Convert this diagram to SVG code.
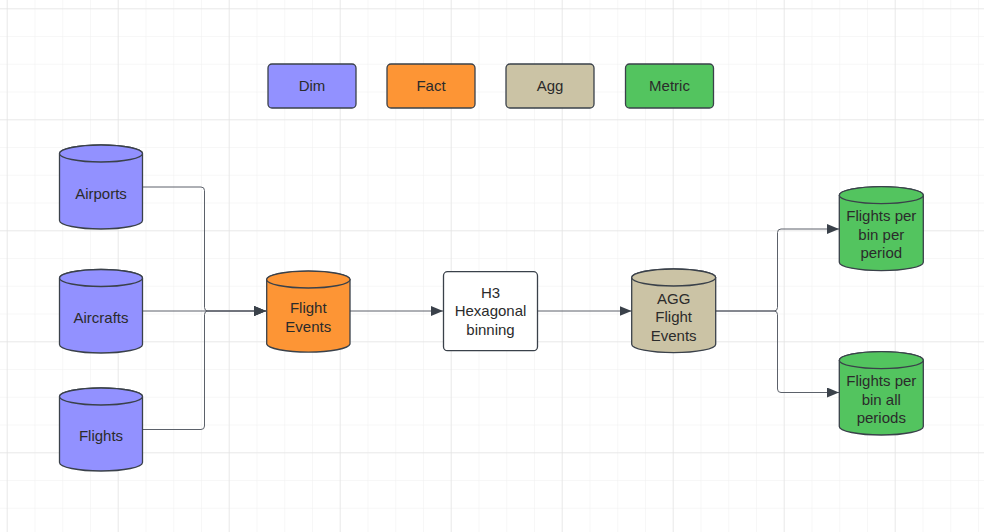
<svg xmlns="http://www.w3.org/2000/svg" width="984" height="532" viewBox="0 0 984 532">
<defs>
<pattern id="minor" x="6.7" y="8.3" width="27.75" height="27.75" patternUnits="userSpaceOnUse">
<path d="M0,0 V27.75 M0,0 H27.75" fill="none" stroke="#efefef" stroke-width="1"/>
</pattern>
<pattern id="major" x="6.7" y="8.3" width="111" height="111" patternUnits="userSpaceOnUse">
<path d="M0,0 V111 M0,0 H111" fill="none" stroke="#dddddd" stroke-width="1"/>
</pattern>
<marker id="arr" viewBox="0 0 12 10" refX="12" refY="5" markerWidth="12" markerHeight="10" markerUnits="userSpaceOnUse" orient="auto">
<path d="M0,0 L12,5 L0,10 Z" fill="#3a414a"/>
</marker>
</defs>
<style>
.shape{stroke:#3a414a;stroke-width:1.3}
.dim{fill:#9291ff}
.fact{fill:#fd9535}
.agg{fill:#cbc3a5}
.metric{fill:#53c45f}
.proc{fill:#ffffff}
.t{font-family:"Liberation Sans",Arial,sans-serif;font-size:15px;fill:#2b2b2b;text-anchor:middle}
.c{fill:none;stroke:#5c616a;stroke-width:1}
</style>
<rect width="984" height="532" fill="#ffffff"/>
<rect width="984" height="532" fill="url(#minor)"/>
<rect width="984" height="532" fill="url(#major)"/>

<g id="legend-dim"><rect class="shape dim" x="268" y="64" width="88" height="44" rx="4"/><text class="t" x="312" y="91">Dim</text></g>
<g id="legend-fact"><rect class="shape fact" x="387" y="64" width="88" height="44" rx="4"/><text class="t" x="431" y="91">Fact</text></g>
<g id="legend-agg"><rect class="shape agg" x="506" y="64" width="88" height="44" rx="4"/><text class="t" x="550" y="91">Agg</text></g>
<g id="legend-metric"><rect class="shape metric" x="625.5" y="64" width="88" height="44" rx="4"/><text class="t" x="669.5" y="91">Metric</text></g>

<g id="connectors">
<path class="c" d="M142.5,187 H201 Q204.5,187 204.5,190.5 V307.5 Q204.5,311 208,311 H266" marker-end="url(#arr)"/>
<path class="c" d="M142.5,311 H266" marker-end="url(#arr)"/>
<path class="c" d="M142.5,429.5 H201 Q204.5,429.5 204.5,426 V314.5 Q204.5,311 208,311 H266" marker-end="url(#arr)"/>
<path class="c" d="M350,311 H443" marker-end="url(#arr)"/>
<path class="c" d="M537.7,311 H631.5" marker-end="url(#arr)"/>
<path class="c" d="M715.7,311 H774 Q777.5,311 777.5,307.5 V232.5 Q777.5,229 781,229 H839" marker-end="url(#arr)"/>
<path class="c" d="M715.7,311 H774 Q777.5,311 777.5,314.5 V389 Q777.5,392.5 781,392.5 H839" marker-end="url(#arr)"/>
</g>

<g id="airports">
<path class="shape dim" d="M59.5,153.5 A41.5,8.5 0 0 1 142.5,153.5 V220.5 A41.5,8.5 0 0 1 59.5,220.5 Z"/>
<ellipse class="shape dim" cx="101" cy="153.5" rx="41.5" ry="8.5"/>
<text class="t" x="101" y="198.5">Airports</text>
</g>
<g id="aircrafts">
<path class="shape dim" d="M59.5,278 A41.5,8.5 0 0 1 142.5,278 V344.5 A41.5,8.5 0 0 1 59.5,344.5 Z"/>
<ellipse class="shape dim" cx="101" cy="278" rx="41.5" ry="8.5"/>
<text class="t" x="101" y="322.5">Aircrafts</text>
</g>
<g id="flights">
<path class="shape dim" d="M59.5,396.5 A41.5,8.5 0 0 1 142.5,396.5 V462.5 A41.5,8.5 0 0 1 59.5,462.5 Z"/>
<ellipse class="shape dim" cx="101" cy="396.5" rx="41.5" ry="8.5"/>
<text class="t" x="101" y="440.7">Flights</text>
</g>
<g id="flight-events">
<path class="shape fact" d="M266.7,279.5 A41.7,8.5 0 0 1 350,279.5 V344 A41.7,8.5 0 0 1 266.7,344 Z"/>
<ellipse class="shape fact" cx="308.3" cy="279.5" rx="41.7" ry="8.5"/>
<text class="t" x="308.3" y="313.4">Flight</text>
<text class="t" x="308.3" y="332.4">Events</text>
</g>
<g id="h3-binning">
<rect class="shape proc" x="443.5" y="271.7" width="94" height="79" rx="4"/>
<text class="t" x="490.5" y="298">H3</text>
<text class="t" x="490.5" y="316.4">Hexagonal</text>
<text class="t" x="490.5" y="334.7">binning</text>
</g>
<g id="agg-flight-events">
<path class="shape agg" d="M631.7,277.5 A42,8.5 0 0 1 715.7,277.5 V344.2 A42,8.5 0 0 1 631.7,344.2 Z"/>
<ellipse class="shape agg" cx="673.7" cy="277.5" rx="42" ry="8.5"/>
<text class="t" x="673.7" y="304">AGG</text>
<text class="t" x="673.7" y="322.4">Flight</text>
<text class="t" x="673.7" y="340.7">Events</text>
</g>
<g id="flights-per-bin-per-period">
<path class="shape metric" d="M839.3,195.2 A42,8.5 0 0 1 923.3,195.2 V262.2 A42,8.5 0 0 1 839.3,262.2 Z"/>
<ellipse class="shape metric" cx="881.3" cy="195.2" rx="42" ry="8.5"/>
<text class="t" x="881.3" y="221.4">Flights per</text>
<text class="t" x="881.3" y="239.7">bin per</text>
<text class="t" x="881.3" y="257.9">period</text>
</g>
<g id="flights-per-bin-all-periods">
<path class="shape metric" d="M839.3,360.2 A42,8.5 0 0 1 923.3,360.2 V426.5 A42,8.5 0 0 1 839.3,426.5 Z"/>
<ellipse class="shape metric" cx="881.3" cy="360.2" rx="42" ry="8.5"/>
<text class="t" x="881.3" y="386.4">Flights per</text>
<text class="t" x="881.3" y="404.7">bin all</text>
<text class="t" x="881.3" y="422.9">periods</text>
</g>
</svg>
